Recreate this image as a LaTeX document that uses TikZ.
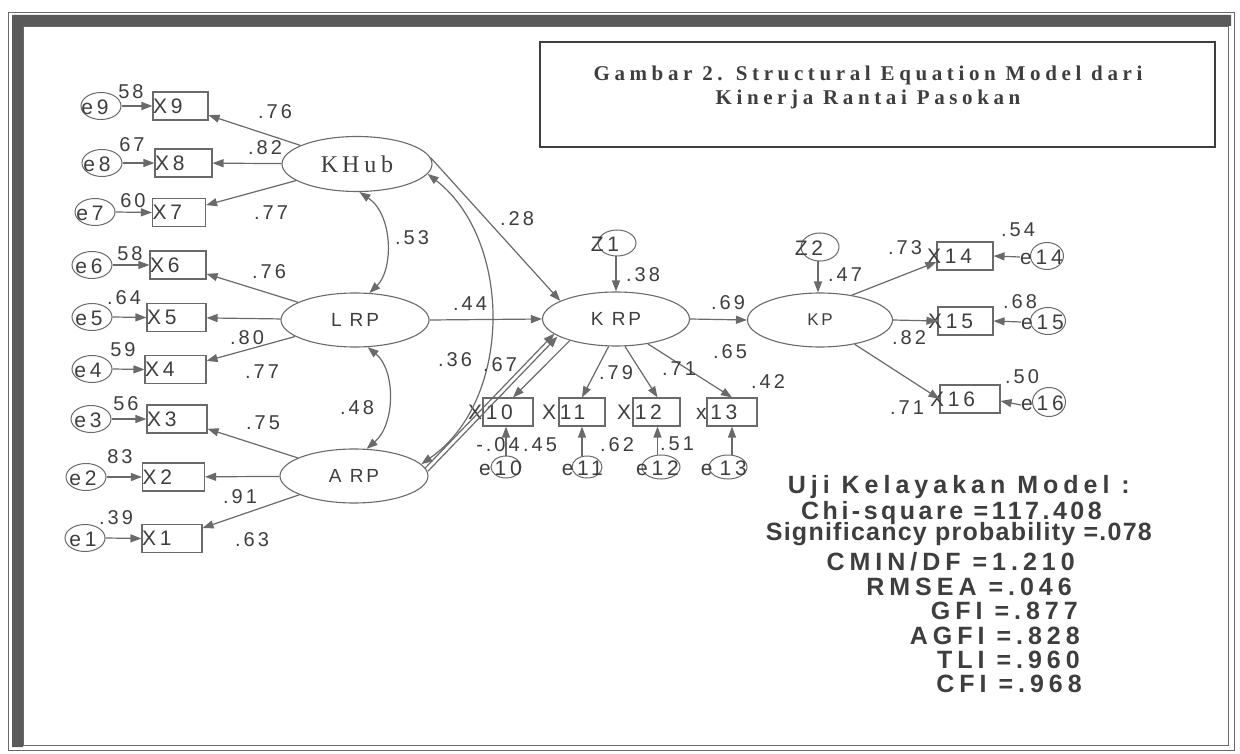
\documentclass[tikz,border=0pt]{standalone}
\usepackage{fontspec}
\setmainfont{Liberation Sans}
\usetikzlibrary{arrows.meta,shapes.geometric}
\newfontfamily\labf[LetterSpace=15]{Liberation Sans}
\newfontfamily\boxf[LetterSpace=18]{Liberation Sans}
\newfontfamily\serff[LetterSpace=20]{Liberation Serif}
\newfontfamily\titf[LetterSpace=22, UprightFont={* Bold}]{Liberation Serif}
\newfontfamily\statf[LetterSpace=20, UprightFont={* Bold}]{Liberation Sans}
\newfontfamily\statm[LetterSpace=14, UprightFont={* Bold}]{Liberation Sans}
\newfontfamily\statn[LetterSpace=5, UprightFont={* Bold}]{Liberation Sans}
\definecolor{lc}{HTML}{6A6A6A}
\definecolor{tc}{HTML}{3E3E3E}
\definecolor{fc}{HTML}{5A5A5A}
\begin{document}
\begin{tikzpicture}[x=1pt,y=-1pt,
  ln/.style={draw=lc, line width=1.2pt},
  arr/.style={ln, -{Triangle[length=11pt,width=8pt]}},
  darr/.style={ln, {Triangle[length=11pt,width=8pt]}-{Triangle[length=11pt,width=8pt]}},
  obs/.style={draw=lc, line width=1.1pt, minimum height=28pt, inner xsep=0pt, inner ysep=0pt, text=tc, font=\fontsize{21}{21}\boxf, align=left, text width=#1},
  lat/.style={ellipse, draw=lc, line width=1.1pt, minimum width=148pt, minimum height=54pt, inner sep=0pt, text=tc},
  errc/.style={ellipse, draw=lc, line width=1pt, minimum width=40pt, minimum height=27pt, inner sep=0pt},
  etxt/.style={text=tc, font=\fontsize{21}{21}\boxf, inner sep=0pt},
  lab/.style={text=tc, font=\fontsize{20}{20}\labf, inner sep=0pt},
  stat/.style={text=tc, font=\fontsize{25}{25}\statf, inner sep=0pt, anchor=east},
  ttl/.style={text=tc, font=\fontsize{21}{21}\titf, inner sep=0pt},
]
\useasboundingbox (0,0) rectangle (1240,754);
\fill[white] (0,0) rectangle (1240,754);
% frame
\draw[lc, line width=0.8pt] (8,12) rectangle (1234,750);
\fill[fc] (12,15) -- (1231,15) -- (1231,26) -- (23,26) -- (23,747) -- (12,747) -- cycle;
\draw[lc, line width=0.8pt] (23,26) rectangle (1228,745);
% title
\node[draw=tc, line width=1.3pt, minimum width=675pt, minimum height=105pt, inner sep=0pt] (tbox) at (877.5,94.5) {};
\node[ttl] (t1) at (868,75) {Gambar 2. Structural Equation Model dari};
\node[ttl] (t2) at (868,99) {Kinerja Rantai Pasokan};

% latent variables
\node[lat, minimum width=150pt, minimum height=55pt, font=\fontsize{24}{24}\serff] (khub) at (357,164) {K\,Hub};
\node[lat, font=\fontsize{19}{19}\labf] (lrp) at (355,320) {L RP};
\node[lat, font=\fontsize{19}{19}\labf] (arp) at (354,476) {A RP};
\node[lat, minimum width=147pt, font=\fontsize{19}{19}\labf] (krp) at (616,319) {K RP};
\node[lat, minimum width=145pt, font=\fontsize{17}{17}\labf] (kp) at (820,320) {KP};

% disturbances
\node[errc, minimum width=38pt, minimum height=26pt] (z1) at (617,243) {};
\node[etxt] (z1t) at (605,244) {Z1};
\node[errc, minimum width=38pt, minimum height=28pt] (z2) at (820,247) {};
\node[etxt] (z2t) at (809,248) {Z2};

% left indicators
\node[obs=55pt] (x9) at (180.5,106) {X9};
\node[obs=57pt] (x8) at (183.5,163) {X8};
\node[obs=53pt] (x7) at (179,212.5) {X7};
\node[obs=56pt] (x6) at (178,265) {X6};
\node[obs=59pt] (x5) at (176.5,317.5) {X5};
\node[obs=61pt] (x4) at (175.5,369.5) {X4};
\node[obs=60pt] (x3) at (177,419) {X3};
\node[obs=62pt] (x2) at (173.5,477) {X2};
\node[obs=60pt] (x1) at (172,538.5) {X1};

% left errors
\node[errc] (e9) at (101,106) {};  \node[etxt] (e9t) at (95,107) {e9};
\node[errc] (e8) at (102,163) {};  \node[etxt] (e8t) at (97,164) {e8};
\node[errc] (e7) at (95,212) {};   \node[etxt] (e7t) at (90,213) {e7};
\node[errc] (e6) at (92,265) {};   \node[etxt] (e6t) at (89,266) {e6};
\node[errc] (e5) at (92,317) {};   \node[etxt] (e5t) at (89,318) {e5};
\node[errc] (e4) at (92,369) {};   \node[etxt] (e4t) at (88,370) {e4};
\node[errc] (e3) at (91,419) {};   \node[etxt] (e3t) at (88,420) {e3};
\node[errc] (e2) at (86,477) {};   \node[etxt] (e2t) at (83,478) {e2};
\node[errc] (e1) at (85,538) {};   \node[etxt] (e1t) at (83,539) {e1};

\foreach \i in {1,...,9} \draw[arr] (e\i.east) -- (x\i.west);

% bottom indicators
\node[obs=50pt] (x10) at (508,412) {\hspace*{-15pt}X10};
\node[obs=46pt] (x11) at (582,412) {\hspace*{-17pt}X11};
\node[obs=47pt] (x12) at (656.5,412) {\hspace*{-16pt}X12};
\node[obs=50pt] (x13) at (732,412) {\hspace*{-11pt}x13};

\node[errc, minimum width=30pt, minimum height=22pt] (e10) at (506,467) {};
\node[etxt, anchor=east] (e10t) at (522,468) {e10};
\node[errc, minimum width=30pt, minimum height=22pt] (e11) at (587,467) {};
\node[etxt, anchor=east] (e11t) at (603,468) {e11};
\node[errc, minimum width=38pt, minimum height=24pt] (e12) at (661,467) {};
\node[etxt, anchor=east] (e12t) at (679,468) {e12};
\node[errc, minimum width=38pt, minimum height=24pt] (e13) at (728,467) {};
\node[etxt, anchor=east] (e13t) at (747,468) {e\,\,13};

\draw[arr] (e10.north) -- (e10.north |- x10.south);
\draw[arr] (x11 |- e11.north) -- (x11.south);
\draw[arr] ([xshift=1pt]x12 |- e12.north) -- ([xshift=1pt]x12.south);
\draw[arr] (x13 |- e13.north) -- (x13.south);

% right indicators
\node[obs=56pt] (x14) at (965,256) {\hspace*{-10pt}X14};
\node[obs=55pt] (x15) at (965.5,321) {\hspace*{-10pt}X15};
\node[obs=60pt] (x16) at (970,399) {\hspace*{-10pt}X16};

\node[errc, minimum width=33pt, minimum height=27pt] (e14) at (1047,256) {};
\node[etxt, anchor=east] (e14t) at (1063,257) {e14};
\node[errc, minimum width=35pt, minimum height=27pt] (e15) at (1048,321) {};
\node[etxt, anchor=east] (e15t) at (1064,322) {e15};
\node[errc, minimum width=33pt, minimum height=29pt] (e16) at (1049,402) {};
\node[etxt, anchor=east] (e16t) at (1064,403) {e16};

\draw[arr] (e14t.west) -- (x14.east);
\draw[arr] (e15t.west) -- (x15.east);
\draw[arr] ([yshift=-2pt]e16t.west) -- ([yshift=-2pt]x16.east);

% loadings
\draw[arr] (khub) -- (x9);
\draw[arr] (khub) -- (x8);
\draw[arr] (khub) -- (x7);
\draw[arr] (lrp) -- (x6);
\draw[arr] (lrp) -- (x5);
\draw[arr] (lrp) -- (x4);
\draw[arr] (arp) -- (x3);
\draw[arr] (arp) -- (x2);
\draw[arr] (arp) -- (x1);

% structural paths
\draw[arr] (khub.5) -- (krp.162);
\draw[arr] (lrp.east) -- (krp.west);
\draw[arr] ([shift={(-1.5,-1.5)}]arp.5) -- ([shift={(-1.5,-1.5)}]krp.195);
\draw[arr] ([shift={(1.5,1.5)}]arp.5) -- ([shift={(1.5,1.5)}]krp.195);
\draw[arr] (krp.east) -- (kp.west);
\draw[arr] (krp |- z1.south) -- (krp.north);
\draw[arr] ([xshift=-2pt]kp |- z2.south) -- ([xshift=-2pt]kp.north);

\draw[arr] (krp.205) -- ([xshift=5pt]x10.north);
\draw[arr] (krp.-105) -- (x11.north);
\draw[arr] (krp.-72) -- ([xshift=1pt]x12.north);
\draw[arr] (krp.-38) -- (x13.north);

\draw[arr] (kp.38) -- ([yshift=-6pt]x14.west);
\draw[arr] (kp.east) -- (x15.west);
\draw[arr] (kp.-35) -- (x16.west);

% correlations
\draw[darr] (khub.-85) .. controls +(34,23) and +(24,-23) .. (lrp.62);
\draw[darr] (lrp.-65) .. controls +(28,23) and +(29,-25) .. (arp.65);
\draw[darr] (khub.-8) .. controls +(85,66) and +(92,-64) .. (arp.10);

% error labels
\node[lab] (l1) at (131,92) {58};
\node[lab] (l2) at (132,145) {67};
\node[lab] (l3) at (133,201) {60};
\node[lab] (l4) at (130,254) {58};
\node[lab] (l5) at (124,298) {.64};
\node[lab] (l6) at (123,350) {59};
\node[lab] (l7) at (126,404) {56};
\node[lab] (l8) at (120,457) {83};
\node[lab] (l9) at (116,518) {.39};

% loading labels
\node[lab] (m1) at (275,112) {.76};
\node[lab] (m2) at (265,148) {.82};
\node[lab] (m3) at (271,213) {.77};
\node[lab] (m4) at (269,272) {.76};
\node[lab] (m5) at (247,338) {.80};
\node[lab] (m6) at (262,372) {.77};
\node[lab] (m7) at (263,423) {.75};
\node[lab] (m8) at (240,497) {.91};
\node[lab] (m9) at (252,540) {.63};

\node[lab] (c1) at (412,238) {.53};
\node[lab] (c2) at (357,408) {.48};
\node[lab] (p1) at (517,219) {.28};
\node[lab] (p2) at (470,304) {.44};
\node[lab] (p3) at (455,360) {.36};
\node[lab] (p4) at (500,365) {.67};
\node[lab] (p5) at (643,275) {.38};
\node[lab] (p6) at (728,303) {.69};
\node[lab] (p7) at (730,352) {.65};
\node[lab] (p8) at (616,373) {.79};
\node[lab] (p9) at (679,369) {.71};
\node[lab] (p10) at (768,382) {.42};
\node[lab] (p11) at (498,445) {-.04};
\node[lab] (p12) at (540,445) {.45};
\node[lab] (p13) at (617,445) {.62};
\node[lab] (p14) at (677,444) {.51};
\node[lab] (q1) at (845,275) {.47};
\node[lab] (q2) at (905,248) {.73};
\node[lab] (q3) at (1018,230) {.54};
\node[lab] (q4) at (1020,302) {.68};
\node[lab] (q5) at (909,338) {.82};
\node[lab] (q6) at (907,408) {.71};
\node[lab] (q7) at (1022,377) {.50};

% fit statistics
\node[stat] (s1) at (1130,487) {Uji Kelayakan Model :};
\node[stat, font=\fontsize{25}{25}\statm] (s2) at (1102,513) {Chi-square =117.408};
\node[stat, font=\fontsize{25}{25}\statn] (s3) at (1152,534) {Significancy probability =.078};
\node[stat] (s4) at (1075,562) {CMIN/DF =1.210};
\node[stat] (s5) at (1072,587) {RMSEA =.046};
\node[stat] (s6) at (1078,611) {GFI =.877};
\node[stat] (s7) at (1080,636) {AGFI =.828};
\node[stat] (s8) at (1080,660) {TLI =.960};
\node[stat] (s9) at (1082,684) {CFI =.968};
\end{tikzpicture}
\end{document}
